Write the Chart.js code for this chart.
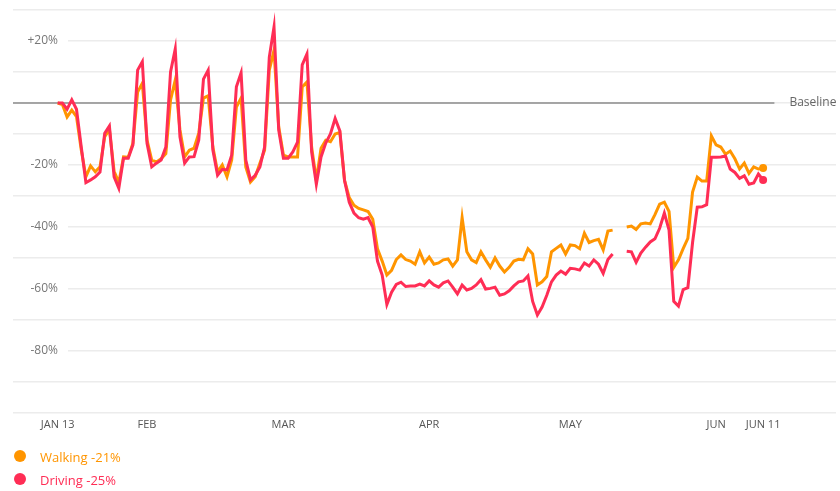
<!DOCTYPE html>
<html>
<head>
<meta charset="utf-8">
<script src="https://cdn.jsdelivr.net/npm/chart.js@4"></script>
<style>
  html, body { margin: 0; padding: 0; background: #fff; }
  #wrap { width: 840px; height: 491px; position: relative; }
</style>
</head>
<body>
<div id="wrap"><canvas id="MobilityChart"></canvas></div>
<script>
// days since Jan 13 (2020), one point per day
const dayIndex = Array.from({ length: 151 }, (_, i) => i);

const walking = [
  0, -0.5, -4.5, -2.3, -4.4, -15, -23.8, -20.3, -22.2, -20.6,
  -10.9, -8.5, -22, -25.7, -17.4, -17.5, -13, 3.5, 6.4, -12,
  -18.4, -19, -18, -16.3, 1, 7.4, -8.7, -17.4, -15.2, -14.6,
  -9.7, 1.6, 2.3, -14.2, -22.2, -20, -23.8, -18.4, -1.3, 1.6,
  -20.6, -25.5, -23.8, -19.4, -15.2, 10.6, 17, -7.7, -16.8, -17.4,
  -17.4, -17.4, 5.2, 6.8, -14.2, -24.8, -14.6, -12, -12.5, -10,
  -9.5, -25, -30.5, -33, -34, -34.5, -35, -37.5, -47, -51,
  -55.5, -54, -50.5, -49, -50.5, -51, -52, -48, -51.6, -49.7,
  -52, -51.6, -50.6, -50.3, -52.6, -50.6, -37, -48, -50.6, -51.5,
  -48, -50.6, -53, -50, -52.6, -54.5, -53, -51, -50.4, -50.6,
  -47, -48.7, -58.7, -57.7, -56, -48, -46.9, -45.8, -48.7, -45.8,
  -46, -47, -42, -45, -44.4, -44, -47.4, -41.3, -41, null,
  null, -40, -39.7, -40.8, -39, -38.7, -39, -36, -32.6, -32,
  -35, -53, -50.6, -47, -43.7, -28.7, -23.9, -25.2, -25.2, -10.6,
  -13.5, -14.2, -16.5, -15.5, -18, -21.3, -19.4, -22.7, -20.6, -21.3,
  -21
];

const driving = [
  0, 0, -2, 1, -2, -14, -25.7, -24.8, -23.8, -22.3,
  -9.8, -7.4, -23.8, -27.5, -17.8, -17.8, -13.5, 10.6, 13.3, -13,
  -20.6, -19.4, -18.4, -14.2, 10, 17.4, -10.9, -19.4, -17.4, -17.3,
  -11.9, 7.7, 10.6, -15.2, -23.3, -21.4, -21.6, -16.8, 5.2, 9.7,
  -18.4, -24.8, -23.3, -20.6, -14.2, 14.8, 24.5, -8.7, -17.8, -17.8,
  -15.8, -12.6, 12.3, 15.8, -15.8, -26.2, -17.4, -12.9, -10, -5,
  -9, -25, -32, -35.5, -37, -37.5, -37, -40, -51, -55.5,
  -65, -61, -58.5, -57.8, -59.2, -59, -59, -58.4, -59, -57.4,
  -58.7, -59.4, -58, -57.4, -59.4, -61.6, -58.7, -60.3, -59.8, -58.7,
  -57, -60, -59.8, -59.4, -62, -61.6, -60.6, -59, -57.7, -57.4,
  -55.8, -64, -68.4, -65.8, -62, -57.7, -55.5, -54.2, -55.2, -53.3,
  -53.5, -53.9, -51.6, -52.6, -50.6, -52, -55, -50.5, -48.7, null,
  null, -47.8, -48, -51.4, -48.4, -46.5, -44.8, -43.8, -40.4, -35.5,
  -41, -64, -65.5, -60.2, -59.6, -45, -33.6, -33.5, -32.8, -17.5,
  -17.5, -17.4, -17.1, -21.3, -22.4, -24.3, -23.5, -26.2, -25.8, -22.9,
  -24.8
];

const tickDays = [0, 19, 48, 79, 109, 140, 150];
const tickLabels = ['JAN 13', 'FEB', 'MAR', 'APR', 'MAY', 'JUN', 'JUN 11'];
const yLabelValues = [20, -20, -40, -60, -80];
const legendNames = ['Walking', 'Driving'];
const legendValues = ['-21%', '-25%'];
const baselineEnd = 152.4;

const ORANGE = '#ff9500';
const RED = '#ff2d55';
const FONT = "'Open Sans', 'Noto Sans', sans-serif";

const lastDot = (ctx) => ctx.dataIndex === dayIndex.length - 1 ? 4 : 0;

// y labels sit on white patches cut out of the grid lines
const yLabelPlugin = {
    id: 'yLabels',
    beforeDatasetsDraw(chart) {
        const ctx = chart.ctx;
        const y = chart.scales.y;
        ctx.save();
        ctx.font = '12px ' + FONT;
        ctx.textAlign = 'right';
        ctx.textBaseline = 'middle';
        yLabelValues.forEach(v => {
            const py = y.getPixelForValue(v);
            ctx.fillStyle = '#fff';
            ctx.fillRect(chart.chartArea.left, py - 3, 55, 6);
            ctx.fillStyle = '#777';
            ctx.fillText((v > 0 ? '+' : '') + v + '%', 58, py);
        });
        ctx.restore();
    }
};

const extrasPlugin = {
    id: 'extras',
    afterDraw(chart) {
        const ctx = chart.ctx;
        const x = chart.scales.x;
        const y = chart.scales.y;
        ctx.save();
        // baseline label
        ctx.font = '12px ' + FONT;
        ctx.fillStyle = '#666';
        ctx.textAlign = 'left';
        ctx.textBaseline = 'middle';
        ctx.fillText('Baseline', x.getPixelForValue(baselineEnd) + 15, y.getPixelForValue(0));
        // legend
        const colors = [ORANGE, RED];
        legendNames.forEach((name, i) => {
            const cy = 457 + i * 23;
            ctx.beginPath();
            ctx.arc(20, cy - 1, 6, 0, Math.PI * 2);
            ctx.fillStyle = colors[i];
            ctx.fill();
            ctx.font = '13px ' + FONT;
            ctx.fillText(name + ' ' + legendValues[i], 40, cy + 1);
        });
        ctx.restore();
    }
};

const ctxMobility = document.getElementById('MobilityChart');
const dataMobility = {
    labels: dayIndex,
    datasets: [
        {
            label: 'Driving',
            data: driving,
            borderColor: RED,
            backgroundColor: RED,
            borderWidth: 3,
            pointRadius: lastDot,
            pointBorderWidth: 0,
            spanGaps: false,
            tension: 0,
            order: 0
        },
        {
            label: 'Walking',
            data: walking,
            borderColor: ORANGE,
            backgroundColor: ORANGE,
            borderWidth: 3,
            pointRadius: lastDot,
            pointBorderWidth: 0,
            spanGaps: false,
            tension: 0,
            order: 1
        },
        {
            label: 'Baseline',
            data: [{ x: -9.5, y: 0 }, { x: baselineEnd, y: 0 }],
            borderColor: '#8c8c8c',
            borderWidth: 1.3,
            pointRadius: 0,
            order: 2
        }
    ]
};

const configMobility = {
    type: 'line',
    data: dataMobility,
    options: {
        responsive: false,
        animation: false,
        layout: {
            padding: { left: 13, right: 2, top: 10, bottom: 58 }
        },
        plugins: {
            legend: { display: false },
            tooltip: { enabled: false }
        },
        scales: {
            x: {
                type: 'linear',
                min: -9.5,
                max: 165.5,
                afterBuildTicks: (scale) => {
                    scale.ticks = tickDays.map(v => ({ value: v }));
                },
                afterFit: (scale) => { scale.height = 20; },
                ticks: {
                    autoSkip: false,
                    maxRotation: 0,
                    padding: 5,
                    color: '#555',
                    font: { size: 11, family: FONT },
                    callback: (v) => tickLabels[tickDays.indexOf(v)]
                },
                grid: { display: false, drawTicks: false },
                border: { display: false }
            },
            y: {
                min: -100,
                max: 30,
                ticks: { display: false, stepSize: 10 },
                afterFit: (scale) => { scale.width = 0; },
                grid: { color: '#ececec', lineWidth: 1.5, drawTicks: false },
                border: { display: false }
            }
        }
    },
    plugins: [yLabelPlugin, extrasPlugin]
};

const canvas = ctxMobility;
canvas.width = 840;
canvas.height = 491;
new Chart(ctxMobility, configMobility);
</script>
</body>
</html>
